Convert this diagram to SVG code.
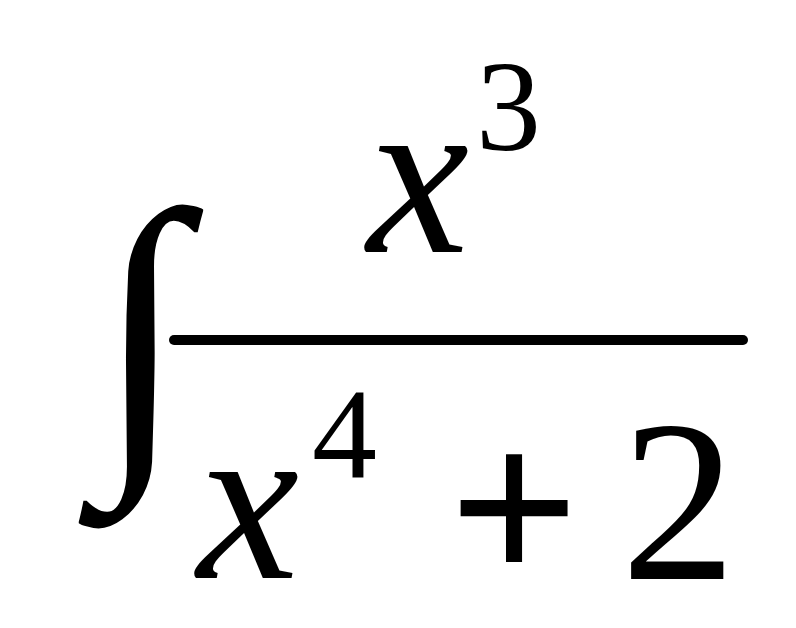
<svg xmlns="http://www.w3.org/2000/svg" width="796" height="628" viewBox="0 0 796 628">
<style>
.m{font-family:"Liberation Serif","Times New Roman",serif;fill:#000}
.i{font-style:italic}
</style>
<rect width="796" height="628" fill="#fff"/>
<g id="integral"><text class="m" x="96" y="440" font-size="330">∫</text></g>
<g id="numerator">
<text class="m i" x="367" y="252" font-size="230">x</text>
<text class="m" x="476" y="150" font-size="130">3</text>
</g>
<g id="bar"><line x1="174" y1="340" x2="743" y2="340" stroke="#000" stroke-width="10" stroke-linecap="round"/></g>
<g id="denominator">
<text class="m i" x="197" y="578" font-size="230">x</text>
<text class="m" x="312" y="478" font-size="130">4</text>
<text class="m" x="514" y="585" font-size="230" font-weight="bold" text-anchor="middle">+</text>
<text class="m" x="621" y="579" font-size="230">2</text>
</g>
</svg>
